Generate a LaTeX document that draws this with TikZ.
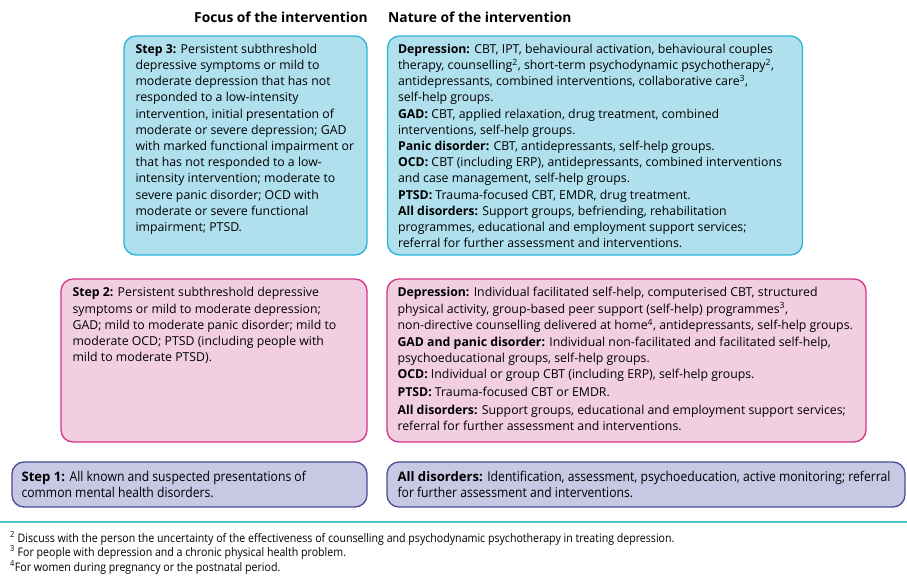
\documentclass[tikz,border=0pt]{standalone}
\usepackage{fontspec}
\setmainfont{Open Sans}
\newfontfamily\condfont[FakeStretch=0.9]{Open Sans}
\usepackage{xcolor}
\usetikzlibrary{positioning,calc}
\definecolor{stepblue}{HTML}{2DB4D6}
\definecolor{stepbluefill}{HTML}{B0E0EE}
\definecolor{steppink}{HTML}{D3338A}
\definecolor{steppinkfill}{HTML}{F1CFE0}
\definecolor{steplilac}{HTML}{4A4C98}
\definecolor{steplilacfill}{HTML}{C8C8E4}
\definecolor{ruleteal}{HTML}{4CC4C6}
\tikzset{%
	panel/.style     = {draw, rounded corners=12pt, line width=1.3pt, inner sep=0pt},
	bluepanel/.style = {panel, draw=stepblue, fill=stepbluefill},
	pinkpanel/.style = {panel, draw=steppink, fill=steppinkfill},
	lilacpanel/.style= {panel, draw=steplilac, fill=steplilacfill},
	blocktext/.style = {anchor=north west, align=left, inner sep=0pt, font=\fontsize{12.3}{16.2}\selectfont},
	basetext/.style  = {anchor=north west, align=left, inner sep=0pt, font=\fontsize{13.1}{15.5}\selectfont},
	heading/.style   = {inner sep=0pt, font=\fontsize{13.8}{16}\selectfont\bfseries},
	notetext/.style  = {anchor=west, inner sep=0pt, font=\fontsize{11.8}{13}\selectfont\condfont},
}

\begin{document}
\begin{tikzpicture}[x=1pt,y=-1pt]
	\useasboundingbox (0,0) rectangle (907,580);
	
	% column headings
	\node[heading, anchor=east] (focus) at (368,17) {Focus of the intervention};
	\node[heading, anchor=west] (nature) at (388,17) {Nature of the intervention};
	
	% step 3
	\node[bluepanel, minimum width=243pt, minimum height=219pt] (step3box) at (245.5,145.5) {};
	\node[bluepanel, minimum width=415pt, minimum height=219pt] (nat3box) at (595,145.5) {};
	\node[blocktext] (step3) at ([xshift=12pt,yshift=-8.5pt]step3box.north west) {%
		\textbf{Step 3:} Persistent subthreshold\\
		depressive symptoms or mild to\\
		moderate depression that has not\\
		responded to a low-intensity\\
		intervention, initial presentation of\\
		moderate or severe depression; GAD\\
		with marked functional impairment or\\
		that has not responded to a low-\\
		intensity intervention; moderate to\\
		severe panic disorder; OCD with\\
		moderate or severe functional\\
		impairment; PTSD.};
	\node[blocktext] (nat3) at ([xshift=11pt,yshift=-8.5pt]nat3box.north west) {%
		\textbf{Depression:} CBT, IPT, behavioural activation, behavioural couples\\
		therapy, counselling\textsuperscript{2}, short-term psychodynamic psychotherapy\textsuperscript{2},\\
		antidepressants, combined interventions, collaborative care\textsuperscript{3},\\
		self-help groups.\\
		\textbf{GAD:} CBT, applied relaxation, drug treatment, combined\\
		interventions, self-help groups.\\
		\textbf{Panic disorder:} CBT, antidepressants, self-help groups.\\
		\textbf{OCD:} CBT (including ERP), antidepressants, combined interventions\\
		and case management, self-help groups.\\
		\textbf{PTSD:} Trauma-focused CBT, EMDR, drug treatment.\\
		\textbf{All disorders:} Support groups, befriending, rehabilitation\\
		programmes, educational and employment support services;\\
		referral for further assessment and interventions.};
	
	% step 2
	\node[pinkpanel, minimum width=306pt, minimum height=163pt] (step2box) at (214,360.5) {};
	\node[pinkpanel, minimum width=479pt, minimum height=163pt] (nat2box) at (626.5,360.5) {};
	\node[blocktext] (step2) at ([xshift=12pt,yshift=-9pt]step2box.north west) {%
		\textbf{Step 2:} Persistent subthreshold depressive\\
		symptoms or mild to moderate depression;\\
		GAD; mild to moderate panic disorder; mild to\\
		moderate OCD; PTSD (including people with\\
		mild to moderate PTSD).};
	\node[blocktext] (nat2) at ([xshift=11pt,yshift=-9pt]nat2box.north west) {%
		\textbf{Depression:} Individual facilitated self-help, computerised CBT, structured\\
		physical activity, group-based peer support (self-help) programmes\textsuperscript{3},\\
		non-directive counselling delivered at home\textsuperscript{4}, antidepressants, self-help groups.\\[0.5pt]
		\textbf{GAD and panic disorder:} Individual non-facilitated and facilitated self-help,\\
		psychoeducational groups, self-help groups.\\[0.5pt]
		\textbf{OCD:} Individual or group CBT (including ERP), self-help groups.\\[1.5pt]
		\textbf{PTSD:} Trauma-focused CBT or EMDR.\\[1.5pt]
		\textbf{All disorders:} Support groups, educational and employment support services;\\
		referral for further assessment and interventions.};
	
	% step 1
	\node[lilacpanel, minimum width=355pt, minimum height=45pt] (step1box) at (189.5,484.5) {};
	\node[lilacpanel, minimum width=518pt, minimum height=45pt] (nat1box) at (646,484.5) {};
	\node[basetext] (step1) at ([xshift=10pt,yshift=-10pt]step1box.north west) {%
		\textbf{Step 1:} {\condfont\fontsize{13.5}{15.5}\selectfont All known and suspected presentations of}\\
		{\condfont\fontsize{13.5}{15.5}\selectfont common mental health disorders.}};
	\node[basetext] (nat1) at ([xshift=11pt,yshift=-10pt]nat1box.north west) {%
		\textbf{All disorders:} {\condfont\fontsize{13.5}{15.5}\selectfont Identification, assessment, psychoeducation, active monitoring; referral}\\
		{\condfont\fontsize{13.5}{15.5}\selectfont for further assessment and interventions.}};
	
	% rule and footnotes
	\coordinate (ruleL) at (0,522);
	\coordinate (ruleR) at (907,522);
	\draw[ruleteal, line width=1.2pt] (ruleL) -- (ruleR);
	\node[notetext] (note2) at (10,538.5) {\textsuperscript{2} Discuss with the person the uncertainty of the effectiveness of counselling and psychodynamic psychotherapy in treating depression.};
	\node[notetext] (note3) at (10,552.5) {\textsuperscript{3} For people with depression and a chronic physical health problem.};
	\node[notetext] (note4) at (10,567.5) {\textsuperscript{4}For women during pregnancy or the postnatal period.};
\end{tikzpicture}
\end{document}
